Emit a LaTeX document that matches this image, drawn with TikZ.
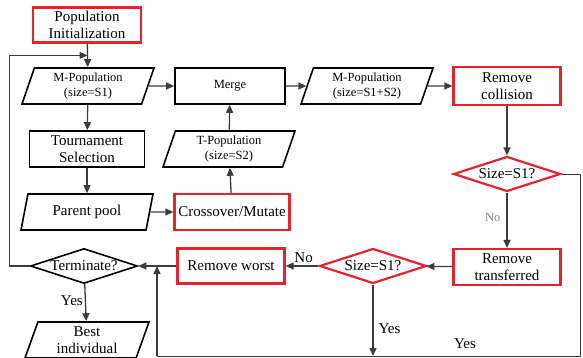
\documentclass[tikz,border=0pt]{standalone}
\usepackage{fontspec}
\setmainfont{Liberation Serif}
\usetikzlibrary{shapes.geometric,arrows.meta,calc}
\definecolor{boxred}{RGB}{230,35,45}
\definecolor{linegray}{RGB}{60,60,60}

\tikzset{
  bigtext/.style={font=\fontsize{15}{17}\selectfont},
  smalltext/.style={font=\fontsize{12.5}{14.5}\selectfont},
  procbox/.style={draw, line width=1.6pt, minimum height=36pt, align=center, inner sep=1pt, bigtext},
  redbox/.style={procbox, draw=boxred, line width=2.2pt},
  databox/.style={trapezium, trapezium left angle=66, trapezium right angle=114,
    trapezium stretches body, draw, line width=1.6pt, minimum height=36pt,
    minimum width=132pt, align=center, inner sep=1pt},
  decide/.style={diamond, aspect=3, draw, line width=1.6pt, inner sep=0pt,
    minimum width=107pt, minimum height=35pt, bigtext},
  flow/.style={line width=1.3pt, draw=linegray, -{Triangle[length=8pt,width=7pt]}},
  plain/.style={line width=1.3pt, draw=linegray},
  thinflow/.style={line width=0.9pt, draw=linegray},
  tag/.style={bigtext, inner sep=0pt}
}

\begin{document}
\begin{tikzpicture}[x=1pt, y=-1pt]
    \useasboundingbox (0,0) rectangle (583,358);

    % Left column
    \node[redbox, minimum width=108pt, minimum height=35pt] (init) at (87,25) {Population\\Initialization};
    \node[databox, smalltext] (mpopa) at (88,86) {M-Population\\(size=S1)};
    \node[procbox, minimum width=115pt] (tourn) at (87,149) {Tournament\\Selection};
    \node[databox, bigtext] (pool) at (87,212) {Parent pool};
    \node[decide] (term) at (84,266) {Terminate?};
    \node[databox, bigtext, minimum width=124pt] (best) at (87,340) {Best\\individual};

    % Middle column
    \node[procbox, smalltext, minimum width=110pt] (merge) at (230,86) {Merge};
    \node[databox, smalltext] (tpop) at (229,149) {T-Population\\(size=S2)};
    \node[redbox, minimum width=115pt] (cross) at (232,212) {Crossover/Mutate};
    \node[redbox, minimum width=107pt, minimum height=35pt] (rworst) at (231,266) {Remove worst};

    % Right columns
    \node[databox, smalltext] (mpopb) at (367,86) {M-Population\\(size=S1+S2)};
    \node[redbox, minimum width=107pt, minimum height=38pt] (rcoll) at (507,86) {Remove\\collision};
    \node[decide, draw=boxred, line width=2.2pt] (sizea) at (507,174) {Size=S1?};
    \node[redbox, minimum width=107pt] (rtrans) at (507,267) {Remove\\transferred};
    \node[decide, draw=boxred, line width=2.2pt] (sizeb) at (373,266) {Size=S1?};

    % Helper points
    \coordinate (initjoin) at ($(init.south)!0.5!(mpopa.north)$);
    \coordinate (joinpt) at (157,266);
    \coordinate (bottomleft) at (157,356);
    \coordinate (bottomright) at (580,356);
    \coordinate (yesend) at (sizeb.south |- bottomleft);

    % Main loop
    \draw[flow] (init) -- (mpopa);
    \draw[flow] (mpopa) -- (merge);
    \draw[flow] (merge) -- (mpopb);
    \draw[flow] (mpopb) -- (rcoll);
    \draw[flow] (mpopa) -- (tourn);
    \draw[flow] (tourn) -- (pool);
    \draw[flow] (pool) -- (cross);
    \draw[flow] (cross) -- (tpop);
    \draw[flow] (tpop) -- (merge);
    \draw[flow] (rcoll) -- (sizea);
    \draw[flow] (sizea) -- node[tag, left=6pt, text=gray, pos=0.45, smalltext] {No} (rtrans);
    \draw[flow] (rtrans) -- (sizeb);
    \draw[flow] (sizeb) -- node[tag, above=3pt, pos=0.45] {No} (rworst);
    \draw[flow] (rworst) -- (term);
    \draw[flow] (term) -- node[tag, left=2pt, pos=0.45] {Yes} (best);
    \draw[flow] (sizeb) -- node[tag, right=5pt, pos=0.62] {Yes} (yesend);

    % Feedback lines
    \draw[flow] (term.west) -- ++(-20,0) |- (initjoin);
    \draw[thinflow] (sizea.east) -| (bottomright) -- (bottomleft);
    \draw[flow] (bottomleft) -- (joinpt);
    \node[tag] at (465,344) {Yes};
\end{tikzpicture}
\end{document}
